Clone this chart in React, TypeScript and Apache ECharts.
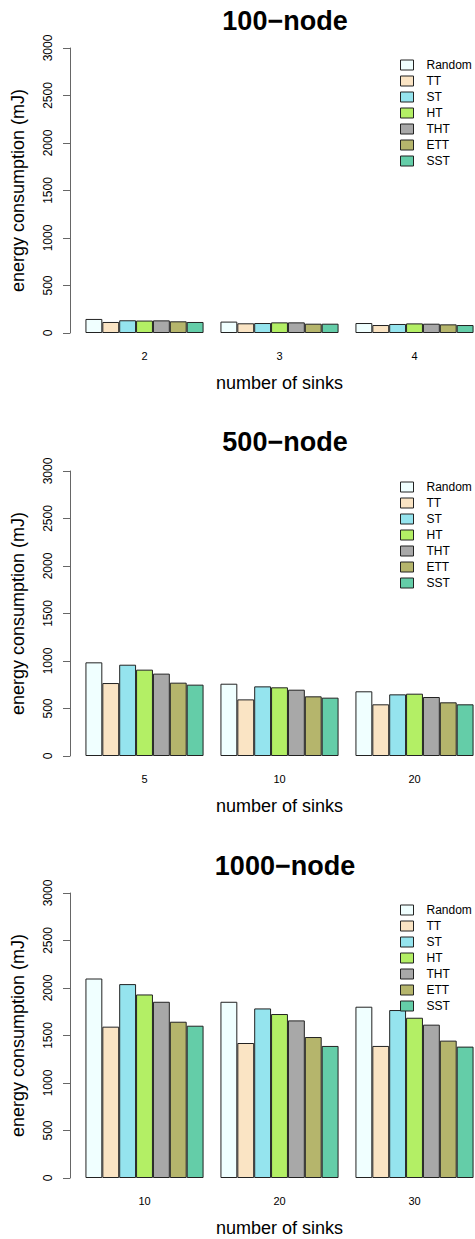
import React, { useEffect, useRef } from "react";
import * as echarts from "echarts";

const methods = ["Random", "TT", "ST", "HT", "THT", "ETT", "SST"];
const colors = ["#F0FFFF", "#FAE4C4", "#95E4EE", "#B3EF65", "#A8A8A8", "#B5B56C", "#64CDA8"];

const titles = ["100\u2212node", "500\u2212node", "1000\u2212node"];
const sinks100 = ["2", "3", "4"];
const sinks500 = ["5", "10", "20"];
const sinks1000 = ["10", "20", "30"];

// values per method, one per sink count
const node100: number[][] = [
  [148, 120, 105],
  [116, 102, 84],
  [134, 105, 95],
  [131, 112, 101],
  [133, 112, 98],
  [123, 98, 91],
  [116, 98, 84],
];
const node500: number[][] = [
  [986, 761, 681],
  [768, 596, 544],
  [961, 733, 649],
  [909, 723, 656],
  [867, 698, 621],
  [772, 628, 565],
  [751, 614, 544],
];
const node1000: number[][] = [
  [2100, 1855, 1803],
  [1593, 1421, 1390],
  [2041, 1785, 1768],
  [1932, 1726, 1687],
  [1855, 1659, 1614],
  [1645, 1484, 1446],
  [1603, 1390, 1383],
];

const yTicksMax = 3000;
const yTickStep = 500;

const FONT = "'Liberation Sans', Arial, Helvetica, sans-serif";

export default function App() {
  const ref = useRef<HTMLDivElement>(null);
  useEffect(() => {
    if (!ref.current) return;
    const chart = echarts.init(ref.current, null, { renderer: "svg" });
    const panels = [
      { cats: sinks100, data: node100, top: 48 },
      { cats: sinks500, data: node500, top: 471 },
      { cats: sinks1000, data: node1000, top: 893 },
    ];
    const grids = panels.map((p) => ({
      left: 77,
      width: 405,
      top: p.top,
      height: 285,
      outerBoundsMode: "none",
      containLabel: false,
    }));
    const xAxes = panels.map((p, i) => ({
      type: "category",
      gridIndex: i,
      data: p.cats,
      axisLine: { show: false },
      axisTick: { show: false },
      axisLabel: { color: "#000", fontSize: 11, margin: 17, fontFamily: FONT },
      name: "number of sinks",
      nameLocation: "middle",
      nameGap: 41,
      nameTextStyle: { color: "#000", fontSize: 18, fontFamily: FONT },
    }));
    const yAxes = panels.map((p, i) => ({
      type: "value",
      gridIndex: i,
      min: 0,
      max: yTicksMax,
      interval: yTickStep,
      offset: 7,
      splitLine: { show: false },
      axisLine: { show: true, lineStyle: { color: "#666", width: 1 } },
      axisTick: { show: true, length: 7, lineStyle: { color: "#666" } },
      axisLabel: {
        color: "#000",
        fontSize: 12,
        rotate: 90,
        margin: 16,
        fontFamily: FONT,
        formatter: (v: number) => String(v),
      },
      name: "energy consumption (mJ)",
      nameLocation: "middle",
      nameGap: 43,
      nameTextStyle: { color: "#000", fontSize: 18, fontFamily: FONT },
    }));
    const series: any[] = [];
    panels.forEach((p, i) => {
      methods.forEach((m, k) => {
        series.push({
          type: "bar",
          name: m,
          xAxisIndex: i,
          yAxisIndex: i,
          data: p.data[k],
          barGap: "0%",
          barCategoryGap: "12.5%",
          itemStyle: { color: colors[k], borderColor: "#222", borderWidth: 1 },
        });
      });
    });
    const legendTops = [54, 476, 899];
    const legends = legendTops.map((t) => ({
      orient: "vertical",
      left: 395,
      top: t,
      icon: "rect",
      itemWidth: 13,
      itemHeight: 10,
      itemGap: 4,
      data: methods,
      itemStyle: { borderColor: "#222", borderWidth: 1 },
      textStyle: { color: "#000", fontSize: 12, lineHeight: 12, fontFamily: FONT, padding: [0, 0, 0, 8] },
      selectedMode: false,
    }));
    const titleTops = [2, 423, 847];
    const titleOpts = titles.map((t, i) => ({
      text: t,
      left: 280,
      textAlign: "center",
      top: titleTops[i],
      textStyle: { color: "#000", fontSize: 27, fontWeight: "bold", fontFamily: FONT },
    }));
    chart.setOption({
      animation: false,
      backgroundColor: "#fff",
      title: titleOpts,
      legend: legends,
      grid: grids,
      xAxis: xAxes,
      yAxis: yAxes,
      series,
    });
    return () => chart.dispose();
  }, []);
  return (
    <div
      ref={ref}
      style={{ position: "absolute", left: 0, top: 0, width: 475, height: 1239 }}
    />
  );
}
